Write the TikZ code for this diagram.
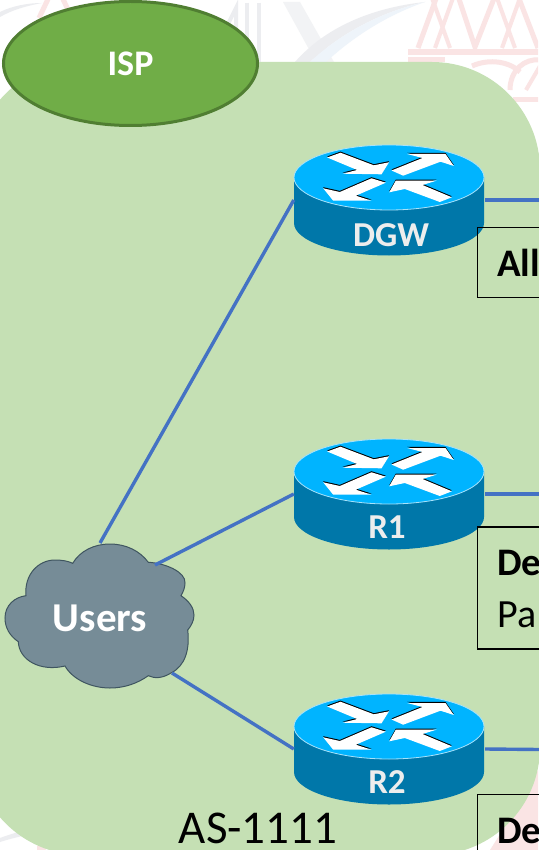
\documentclass[tikz,border=0pt]{standalone}
\usepackage{fontspec}
\usetikzlibrary{shapes.geometric}
\setmainfont{Carlito}
\definecolor{wire}{HTML}{4472C4}
\definecolor{zone}{HTML}{C5E0B4}
\definecolor{ispfill}{HTML}{70AD47}
\definecolor{ispline}{HTML}{507E32}
\definecolor{cloudfill}{HTML}{768C97}
\definecolor{cloudline}{HTML}{3F5560}
\definecolor{rtop}{HTML}{00B4FF}
\definecolor{rside}{HTML}{0077A9}
\definecolor{redge}{HTML}{A8E2FA}
\definecolor{wmpink}{HTML}{FAE4E4}
\definecolor{wmgray}{HTML}{ECEDF0}
\definecolor{wmblue}{HTML}{EEF4FA}
\tikzset{
  x=1pt,y=-1pt,
  conn/.style={draw=wire,line width=3.4pt},
  hub/.style={inner sep=0pt,minimum width=190pt,minimum height=110pt},
  rlabel/.style={text=white!93!black,font=\bfseries\fontsize{35}{35}\selectfont},
  infobox/.style={draw=black,line width=1.5pt,fill=none},
  boxtext/.style={anchor=base west,inner sep=0pt,text=black,font=\fontsize{40}{40}\selectfont},
  boxbold/.style={boxtext,font=\bfseries\fontsize{39}{39}\selectfont},
  wmp/.style={draw=wmpink,line width=5pt},
  wmg/.style={draw=wmgray,line width=4pt},
}
\newcommand{\rarrow}[1]{%
  \fill[black,shift={(0,-1.1)}] #1;
  \fill[white] #1;}
\newcommand{\routerat}[6]{%
  % name, cx, cy(top ellipse), label, label y, label x
  \begin{scope}[shift={(#2,#3)}]
    \fill[rside] (-95,0) -- (-95,45.5) arc[start angle=180,end angle=0,x radius=95,y radius=32.5] -- (95,0) -- cycle;
    \draw[fill=rtop,draw=redge,line width=0.8pt] (0,0) ellipse[x radius=95,y radius=32.5];
    \rarrow{(-61.8,-20) -- (-48.5,-24.8) -- (-15.2,-12.2) -- (0,-15.2) -- (-7.5,-3.2) -- (-46.5,-3.8) -- (-31.8,-7.5) -- cycle}
    \rarrow{(2.5,-7) -- (33.5,-19.5) -- (18.2,-23.5) -- (56.5,-23.5) -- (64.8,-11.5) -- (51.5,-15.8) -- (14.2,-1.8) -- cycle}
    \rarrow{(-3.2,5.2) -- (-17.5,0.8) -- (-49.2,14.5) -- (-65.8,10.8) -- (-55.8,23.2) -- (-17.5,23.2) -- (-33.2,18.2) -- cycle}
    \rarrow{(0.2,14.8) -- (6.8,3.2) -- (47.5,3.2) -- (33.5,7.5) -- (62.8,19.8) -- (50.8,24.5) -- (15.8,11.5) -- cycle}
  \end{scope}
  \node[hub] (#1) at (#2,#3+22.5) {};
  \node[rlabel] (#1label) at (#6,#5) {#4};}
\begin{document}
\begin{tikzpicture}
\useasboundingbox (0,0) rectangle (538,850);
\fill[white] (0,0) rectangle (538,850);
% watermark
\begin{scope}
\clip (0,0) rectangle (538,850);
\draw[wmp] (418,48) -- (437,-4);
\draw[wmp] (458,-4) -- (475,47) -- (495,-4);
\draw[wmp] (518,-4) -- (538,48);
\draw[wmp,line width=4pt] (435,48) -- (453,-2) (450,48) -- (432,-2);
\draw[wmp,line width=4pt] (502,48) -- (520,-2) (515,48) -- (497,-2);
\draw[wmp,line width=6pt] (408,52) -- (540,52);
\draw[wmp,line width=5pt] (408,60) -- (445,60);
\draw[wmp] (472,66) .. controls (490,58) and (510,62) .. (520,72);
\draw[wmp] (510,90) .. controls (510,70) and (525,58) .. (540,60);
\draw[wmp] (513,100) -- (540,100);
\draw[wmp,line width=4pt] (526,90) -- (540,66);
\draw[wmp] (39,18) -- (49,-3);
\draw[wmp] (62,-3) -- (70,14);
\draw[wmg] (225,30) -- (236,8) -- (236,40);
\draw[wmg] (247,3) -- (247,62) (259,3) -- (259,62);
\fill[wmgray!70!white] (283,2) -- (300,2) -- (334,62) -- (316,62) -- cycle;
\fill[wmgray] (295,62) .. controls (325,28) and (370,8) .. (425,2) .. controls (380,12) and (340,34) .. (310,62) -- cycle;
\fill[wmblue] (310,62) .. controls (340,34) and (380,12) .. (425,2) .. controls (385,16) and (352,38) .. (326,62) -- cycle;
\fill[wmgray] (0,12) .. controls (12,6) and (28,3) .. (42,3) .. controls (26,6) and (12,10) .. (0,17) -- cycle;
\fill[wmgray] (0,838) .. controls (5,836) and (12,834) .. (18,832) -- (22,836) .. controls (14,838) and (6,840) .. (0,842) -- cycle;
\fill[wmpink] (37,846) -- (44,846) -- (46,850) -- (37,850) -- cycle;
\fill[wmpink] (528,790) -- (538,770) -- (538,850) -- (490,850) -- cycle;
\end{scope}
% autonomous system area
\fill[zone] (-26,170) arc[start angle=180,end angle=270,radius=108] -- (432,62) arc[start angle=270,end angle=360,radius=108] -- (540,747) arc[start angle=0,end angle=90,radius=108] -- (82,855) arc[start angle=90,end angle=180,radius=108] -- cycle;
% ISP
\node[ellipse,draw=ispline,line width=3pt,fill=ispfill,minimum width=254pt,minimum height=124pt,inner sep=0pt,text=white,font=\bfseries\fontsize{36}{36}\selectfont] (isp) at (130.5,63.5) {\raisebox{-1.5pt}{ISP}};
% routers
\routerat{dgw}{389}{177.5}{DGW}{235}{391}
\routerat{rone}{389}{471.5}{R1}{527}{387}
\routerat{rtwo}{389}{726.5}{R2}{782}{387}
% cloud
\fill[cloudfill,draw=cloudline,line width=1pt]
  (72.7,563.3) .. controls (80,551) and (94,544) .. (110,544)
  .. controls (126,544) and (140,551) .. (148.3,562.3)
  .. controls (165,563) and (186,572) .. (185,583)
  .. controls (185,588) and (183,592) .. (181,595.7)
  .. controls (189,601) and (194,608) .. (194,615)
  .. controls (194,621) and (191,626) .. (187.7,630)
  .. controls (190,650) and (185,666) .. (171,673)
  .. controls (163,678) and (155,679) .. (148.3,675.7)
  .. controls (138,683) and (125,688) .. (110,688)
  .. controls (92,688) and (73,680) .. (65,666)
  .. controls (40,672) and (19,660) .. (18.3,641.7)
  .. controls (10,636) and (5,628) .. (5,618)
  .. controls (5,605) and (15,597) .. (26,595.7)
  .. controls (24,575) and (38,560) .. (55,560)
  .. controls (62,560) and (68,561) .. (72.7,563.3) -- cycle;
\node[text=white,font=\bfseries\fontsize{41}{41}\selectfont] (users) at (100,618) {Users};
\coordinate (usersa) at (100,543);
\coordinate (usersb) at (155,565);
\coordinate (usersc) at (172,673);
\coordinate (edgea) at (540,200);
\coordinate (edgeb) at (540,494);
\coordinate (edgec) at (540,749.5);
% connectors
\draw[conn] (usersa) -- (dgw.west);
\draw[conn] (usersb) -- (rone.west);
\draw[conn] (usersc) -- (rtwo.west);
\draw[conn] ([xshift=1pt]dgw.east) -- (edgea);
\draw[conn] ([xshift=1pt]rone.east) -- (edgeb);
\draw[conn] ([xshift=1pt]rtwo.east) -- (edgec);
% info boxes
\draw[infobox] (545,227.5) -- (477.5,227.5) -- (477.5,297.5) -- (545,297.5);
\draw[infobox] (545,527) -- (477.5,527) -- (477.5,649) -- (545,649);
\draw[infobox] (545,794.5) -- (477.5,794.5) -- (477.5,855);
\node[boxbold] (boxa) at (497,276.5) {All};
\node[boxbold] (boxb) at (497,575) {De};
\node[boxtext] (boxbb) at (497,627) {Pa};
\node[boxbold] (boxc) at (497,843) {De};
\node[anchor=base,inner sep=0pt,text=black,font=\fontsize{47}{47}\selectfont] (as) at (258,843) {AS-1111};
\end{tikzpicture}
\end{document}
